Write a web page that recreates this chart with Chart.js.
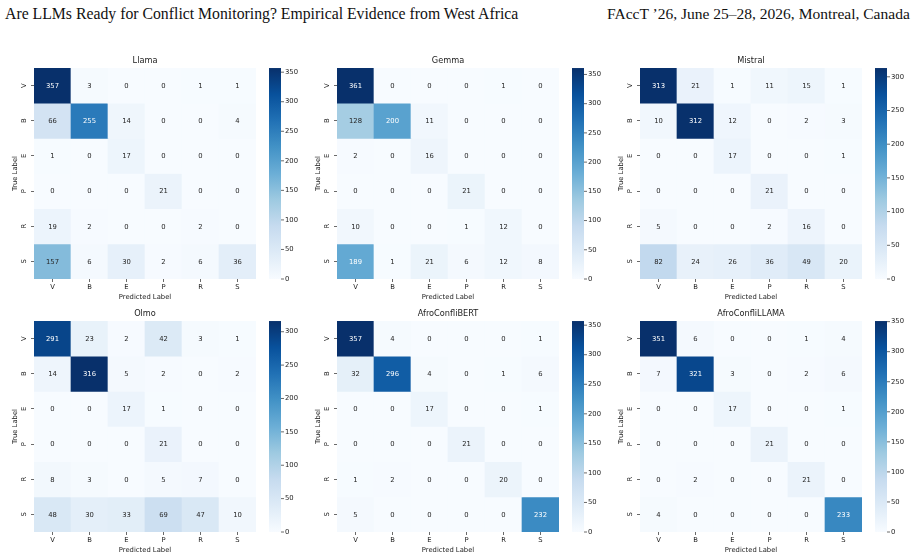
<!DOCTYPE html>
<html>
<head>
<meta charset="utf-8">
<script src="https://cdn.jsdelivr.net/npm/chart.js@4.4.1/dist/chart.umd.min.js"></script>
<style>
  html, body { margin: 0; padding: 0; background: #fff; }
  #page { position: relative; width: 915px; height: 558px; overflow: hidden; background: #fff; }
  .hdr { position: absolute; font-family: 'Liberation Serif', 'DejaVu Serif', serif; font-size: 15.5px; line-height: 15.5px; color: #111; white-space: nowrap; }
  .panel { position: absolute; width: 300px; height: 253px; }
</style>
</head>
<body>
<div id="page">
  <div class="hdr" id="hdrLeft" style="left:5px; top:6px">Are LLMs Ready for Conflict Monitoring? Empirical Evidence from West Africa</div>
  <div class="hdr" id="hdrRight" style="left:607px; top:6px">FAccT ’26, June 25–28, 2026, Montreal, Canada</div>
  <div class="panel" style="left:0px; top:48px"><canvas id="c0" width="300" height="253"></canvas></div>
  <div class="panel" style="left:303px; top:48px"><canvas id="c1" width="300" height="253"></canvas></div>
  <div class="panel" style="left:606px; top:48px"><canvas id="c2" width="300" height="253"></canvas></div>
  <div class="panel" style="left:0px; top:301px"><canvas id="c3" width="300" height="253"></canvas></div>
  <div class="panel" style="left:303px; top:301px"><canvas id="c4" width="300" height="253"></canvas></div>
  <div class="panel" style="left:606px; top:301px"><canvas id="c5" width="300" height="253"></canvas></div>
</div>
<script>
// class labels (rows = true, columns = predicted)
const TRUE_LABELS = ['V', 'B', 'E', 'P', 'R', 'S'];
const PRED_LABELS = ['V', 'B', 'E', 'P', 'R', 'S'];

// confusion matrices
const LLAMA = [
    [357, 3, 0, 0, 1, 1],
    [66, 255, 14, 0, 0, 4],
    [1, 0, 17, 0, 0, 0],
    [0, 0, 0, 21, 0, 0],
    [19, 2, 0, 0, 2, 0],
    [157, 6, 30, 2, 6, 36]
];
const GEMMA = [
    [361, 0, 0, 0, 1, 0],
    [128, 200, 11, 0, 0, 0],
    [2, 0, 16, 0, 0, 0],
    [0, 0, 0, 21, 0, 0],
    [10, 0, 0, 1, 12, 0],
    [189, 1, 21, 6, 12, 8]
];
const MISTRAL = [
    [313, 21, 1, 11, 15, 1],
    [10, 312, 12, 0, 2, 3],
    [0, 0, 17, 0, 0, 1],
    [0, 0, 0, 21, 0, 0],
    [5, 0, 0, 2, 16, 0],
    [82, 24, 26, 36, 49, 20]
];
const OLMO = [
    [291, 23, 2, 42, 3, 1],
    [14, 316, 5, 2, 0, 2],
    [0, 0, 17, 1, 0, 0],
    [0, 0, 0, 21, 0, 0],
    [8, 3, 0, 5, 7, 0],
    [48, 30, 33, 69, 47, 10]
];
const AFRO_BERT = [
    [357, 4, 0, 0, 0, 1],
    [32, 296, 4, 0, 1, 6],
    [0, 0, 17, 0, 0, 1],
    [0, 0, 0, 21, 0, 0],
    [1, 2, 0, 0, 20, 0],
    [5, 0, 0, 0, 0, 232]
];
const AFRO_LLAMA = [
    [351, 6, 0, 0, 1, 4],
    [7, 321, 3, 0, 2, 6],
    [0, 0, 17, 0, 0, 1],
    [0, 0, 0, 21, 0, 0],
    [0, 2, 0, 0, 21, 0],
    [4, 0, 0, 0, 0, 233]
];

const MODEL_NAMES = ['Llama', 'Gemma', 'Mistral', 'Olmo', 'AfroConfliBERT', 'AfroConfliLLAMA'];
const MATRICES = [LLAMA, GEMMA, MISTRAL, OLMO, AFRO_BERT, AFRO_LLAMA];
const COLORBAR_STEP = 50;

// matplotlib "Blues"
const BLUES = ['#f7fbff', '#deebf7', '#c6dbef', '#9ecae1', '#6baed6', '#4292c6', '#2171b5', '#08519c', '#08306b'];
const FONT = "'DejaVu Sans', sans-serif";
const INK = '#222222';

function hexRgb(h) {
    return [1, 3, 5].map(i => parseInt(h.slice(i, i + 2), 16));
}

function bluesRgb(t) {
    t = Math.max(0, Math.min(1, t));
    const p = t * (BLUES.length - 1);
    const i = Math.min(Math.floor(p), BLUES.length - 2);
    const f = p - i;
    const a = hexRgb(BLUES[i]), b = hexRgb(BLUES[i + 1]);
    return a.map((v, k) => v + (b[k] - v) * f);
}

function blues(t) {
    const c = bluesRgb(t).map(Math.round);
    return `rgb(${c[0]}, ${c[1]}, ${c[2]})`;
}

// same rule seaborn uses to pick annotation colour
function annotColor(t) {
    const lin = bluesRgb(t).map(c => {
        c /= 255;
        return c <= 0.03928 ? c / 12.92 : Math.pow((c + 0.055) / 1.055, 2.4);
    });
    const lum = 0.2126 * lin[0] + 0.7152 * lin[1] + 0.0722 * lin[2];
    return lum > 0.408 ? '#262626' : '#ffffff';
}

// keep axis label overflow from shrinking the heatmap
function noPadding(s) {
    s.paddingTop = 0;
    s.paddingBottom = 0;
    s.paddingLeft = 0;
    s.paddingRight = 0;
}

function makePanel(canvasId, title, matrix) {
    const vmax = Math.max(...matrix.flat());
    const tickFont = { family: FONT, size: 6.8 };

    const datasets = matrix.map((row, r) => ({
        label: TRUE_LABELS[r],
        data: row.map((v, c) => ({ x: PRED_LABELS[c], y: [r, r + 1], v: v })),
        backgroundColor: row.map(v => blues(v / vmax)),
        borderWidth: 0,
        barPercentage: 1,
        categoryPercentage: 1,
        grouped: false
    }));

    const cellText = {
        id: 'cellText',
        afterDatasetsDraw(chart) {
            const ctx = chart.ctx;
            ctx.save();
            ctx.font = `6.8px ${FONT}`;
            ctx.textAlign = 'center';
            ctx.textBaseline = 'middle';
            chart.data.datasets.forEach((ds, i) => {
                chart.getDatasetMeta(i).data.forEach((bar, j) => {
                    const raw = ds.data[j];
                    const p = bar.getProps(['x', 'y', 'base'], true);
                    ctx.fillStyle = annotColor(raw.v / vmax);
                    ctx.fillText(String(raw.v), p.x, (p.y + p.base) / 2 + 0.5);
                });
            });
            ctx.restore();
        }
    };

    const colorbar = {
        id: 'colorbar',
        afterDraw(chart) {
            const ctx = chart.ctx;
            const s = chart.scales.cb;
            const x0 = s.left + 13;
            const w = 12;
            const top = s.getPixelForValue(vmax);
            const bottom = s.getPixelForValue(0);
            const g = ctx.createLinearGradient(0, bottom, 0, top);
            BLUES.forEach((c, i) => g.addColorStop(i / (BLUES.length - 1), c));
            ctx.save();
            ctx.fillStyle = g;
            ctx.fillRect(x0, top, w, bottom - top);
            ctx.strokeStyle = '#444';
            ctx.lineWidth = 0.8;
            s.ticks.forEach(t => {
                const y = s.getPixelForValue(t.value);
                ctx.beginPath();
                ctx.moveTo(x0 + w, y);
                ctx.lineTo(x0 + w + 3, y);
                ctx.stroke();
            });
            ctx.restore();
        }
    };

    return new Chart(document.getElementById(canvasId), {
        type: 'bar',
        data: { labels: PRED_LABELS, datasets: datasets },
        options: {
            responsive: false,
            animation: false,
            events: [],
            layout: { padding: 0 },
            plugins: {
                legend: { display: false },
                tooltip: { enabled: false },
                title: {
                    display: true,
                    text: title,
                    fullSize: false,
                    color: INK,
                    font: { family: FONT, size: 8.2, weight: 'normal' },
                    padding: { top: 8, bottom: 2.2 }
                }
            },
            scales: {
                x: {
                    type: 'category',
                    offset: true,
                    border: { display: false },
                    grid: { offset: false, drawOnChartArea: false, drawTicks: true, tickLength: 3, tickColor: '#444', tickWidth: 0.8 },
                    ticks: { color: INK, font: tickFont, padding: 1, maxRotation: 0, autoSkip: false },
                    title: { display: true, text: 'Predicted Label', color: INK, font: tickFont, padding: { top: 0, bottom: 0 } },
                    afterFit: s => { s.height = 22; noPadding(s); }
                },
                y: {
                    type: 'linear',
                    min: 0,
                    max: TRUE_LABELS.length,
                    reverse: true,
                    border: { display: false },
                    afterBuildTicks: s => { s.ticks = TRUE_LABELS.map((_, i) => ({ value: i + 0.5 })); },
                    grid: { drawOnChartArea: false, drawTicks: true, tickLength: 3, tickColor: '#444', tickWidth: 0.8 },
                    ticks: {
                        color: INK, font: tickFont, autoSkip: false,
                        minRotation: 90, maxRotation: 90, crossAlign: 'center', padding: 4.5,
                        callback: v => TRUE_LABELS[Math.floor(v)]
                    },
                    title: { display: true, text: 'True Label', color: INK, font: tickFont, padding: { top: 11, bottom: 0 } },
                    afterFit: s => { s.width = 34; noPadding(s); }
                },
                cb: {
                    type: 'linear',
                    position: 'right',
                    min: 0,
                    max: vmax,
                    border: { display: false },
                    grid: { drawOnChartArea: false, drawTicks: false },
                    afterBuildTicks: s => {
                        const ticks = [];
                        for (let v = 0; v <= vmax; v += COLORBAR_STEP) ticks.push({ value: v });
                        s.ticks = ticks;
                    },
                    ticks: { color: INK, font: tickFont, padding: 29, autoSkip: false, callback: v => String(v) },
                    afterFit: s => { s.width = 44; noPadding(s); }
                }
            }
        },
        plugins: [cellText, colorbar]
    });
}

function fitHeader(id, left, right, baseline) {
    const el = document.getElementById(id);
    const w = el.getBoundingClientRect().width;
    const size = 15.5 * (right - left) / w;
    el.style.fontSize = size + 'px';
    el.style.lineHeight = size + 'px';
    el.style.left = left + 'px';
    el.style.top = (baseline - 0.8375 * size) + 'px';
}

document.addEventListener('DOMContentLoaded', () => {
    fitHeader('hdrLeft', 5, 519, 18.8);
    fitHeader('hdrRight', 607, 910, 18.8);
    MATRICES.forEach((m, i) => makePanel('c' + i, MODEL_NAMES[i], m));
});
</script>
</body>
</html>
